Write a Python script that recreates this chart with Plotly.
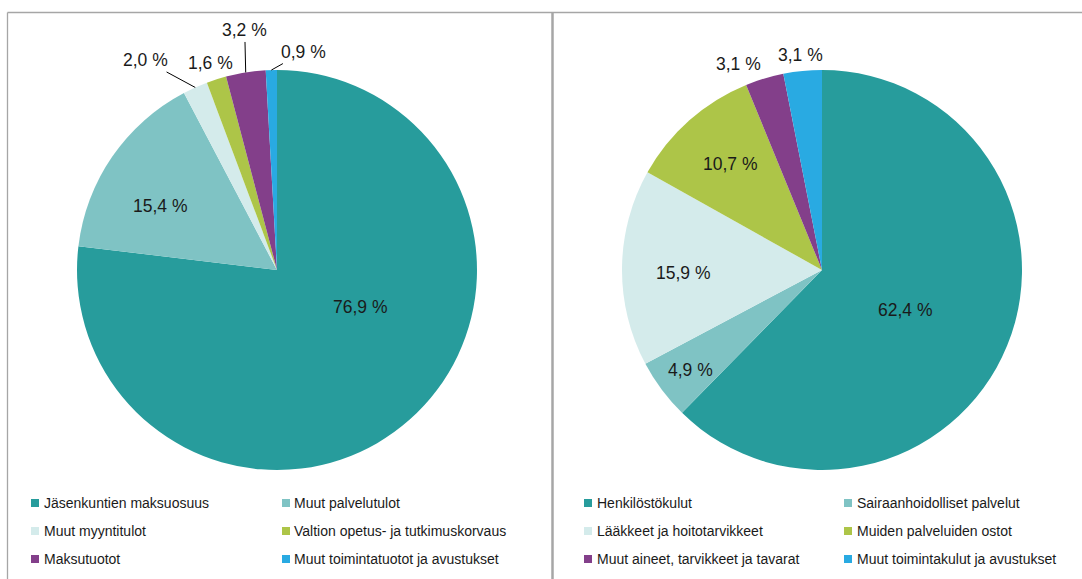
import math
import plotly.graph_objects as go

# ---------------- data ----------------
left_labels = ["Jäsenkuntien maksuosuus", "Muut palvelutulot", "Muut myyntitulot",
               "Valtion opetus- ja tutkimuskorvaus", "Maksutuotot",
               "Muut toimintatuotot ja avustukset"]
left_values = [76.9, 15.4, 2.0, 1.6, 3.2, 0.9]

right_labels = ["Henkilöstökulut", "Sairaanhoidolliset palvelut",
                "Lääkkeet ja hoitotarvikkeet", "Muiden palveluiden ostot",
                "Muut aineet, tarvikkeet ja tavarat",
                "Muut toimintakulut ja avustukset"]
right_values = [62.4, 4.9, 15.9, 10.7, 3.1, 3.1]

colors = ["#279C9C", "#7FC3C4", "#D4EBEB", "#ADC548", "#833F8A", "#29AAE2"]

# ---------------- layout / style ----------------
W, H = 1082, 579
R = 200
FONT = "Liberation Sans, Arial, sans-serif"
TXT = "#1a1a1a"
LABEL_SIZE = 17.5
LEG_SIZE = 14

pies = [
    dict(labels=left_labels, values=left_values, cx=277, cy=270,
         # per-slice label style: (radius fraction, x shift px, y shift px, leader line)
         lab=[(0.5, 17, -38, False), (0.67, -7, 12, False), (1.0, -50, -27, True),
              (1.0, -6, -16, False), (1.0, -1, -42, True), (1.0, 32, -18, True)],
         leg_x=[31, 282], leg_text_x=[42, 292]),
    dict(labels=right_labels, values=right_values, cx=822, cy=270,
         lab=[(0.46, -2, 5, False), (0.83, 1, 1, False), (0.7, 1, 5, False),
              (0.71, 2, 0, False), (1.0, -26, -14, False), (1.0, -2, -16, False)],
         leg_x=[584, 844], leg_text_x=[595, 855]),
]
leg_rows = [503, 531, 559]

def px2paper(x, y):
    return x / W, 1 - y / H

fig = go.Figure()
annotations = []
shapes = []

for p in pies:
    cx, cy = p["cx"], p["cy"]
    fig.add_trace(go.Pie(
        labels=p["labels"], values=p["values"], sort=False, direction="clockwise",
        rotation=0, textinfo="none", showlegend=False,
        marker=dict(colors=colors, line=dict(width=0)),
        domain=dict(x=[(cx - R) / W, (cx + R) / W], y=[1 - (cy + R) / H, 1 - (cy - R) / H]),
    ))
    total = sum(p["values"])
    cum = 0
    for v, (frac, sx, sy, arrow) in zip(p["values"], p["lab"]):
        theta = math.radians((cum + v / 2) / total * 360)
        cum += v
        axp = cx + frac * R * math.sin(theta)
        ayp = cy - frac * R * math.cos(theta)
        text = f"{v:.1f}".replace(".", ",") + " %"
        x, y = px2paper(axp, ayp)
        if arrow:
            annotations.append(dict(x=x, y=y, xref="paper", yref="paper", text=text,
                                    showarrow=True, arrowhead=0, arrowwidth=1,
                                    arrowcolor="#000", ax=sx, ay=sy, standoff=0,
                                    font=dict(family=FONT, size=LABEL_SIZE, color=TXT)))
        else:
            x, y = px2paper(axp + sx, ayp + sy)
            annotations.append(dict(x=x, y=y, xref="paper", yref="paper", text=text,
                                    showarrow=False, xanchor="center", yanchor="middle",
                                    font=dict(family=FONT, size=LABEL_SIZE, color=TXT)))
    # legend (two columns, three rows)
    for i, (lab, col) in enumerate(zip(p["labels"], colors)):
        r, c = divmod(i, 2)
        ty = leg_rows[r]
        x0, y0 = px2paper(p["leg_x"][c], ty - 4)
        x1, y1 = px2paper(p["leg_x"][c] + 8, ty + 4)
        shapes.append(dict(type="rect", xref="paper", yref="paper", x0=x0, x1=x1,
                           y0=y1, y1=y0, fillcolor=col, line=dict(width=0)))
        tx, tyy = px2paper(p["leg_text_x"][c], ty)
        annotations.append(dict(x=tx, y=tyy, xref="paper", yref="paper", text=lab,
                                showarrow=False, xanchor="left", yanchor="middle",
                                font=dict(family=FONT, size=LEG_SIZE, color=TXT)))

# frame lines
for (xa, ya, xb, yb, w) in [(7.5, 12.5, W, 12.5, 1.3), (7.5, 12.5, 7.5, H, 1.3),
                            (552.5, 12.5, 552.5, H, 2.5)]:
    x0, y0 = px2paper(xa, ya)
    x1, y1 = px2paper(xb, yb)
    shapes.append(dict(type="line", xref="paper", yref="paper", x0=x0, y0=y0,
                       x1=x1, y1=y1, line=dict(color="#A6A6A6", width=w)))

fig.update_layout(
    width=W, height=H, margin=dict(l=0, r=0, t=0, b=0),
    paper_bgcolor="white", plot_bgcolor="white",
    annotations=annotations, shapes=shapes, showlegend=False,
)
fig.write_html("out.html", config={"displayModeBar": False},
               post_script="document.body.style.margin='0';document.body.style.overflow='hidden';")
